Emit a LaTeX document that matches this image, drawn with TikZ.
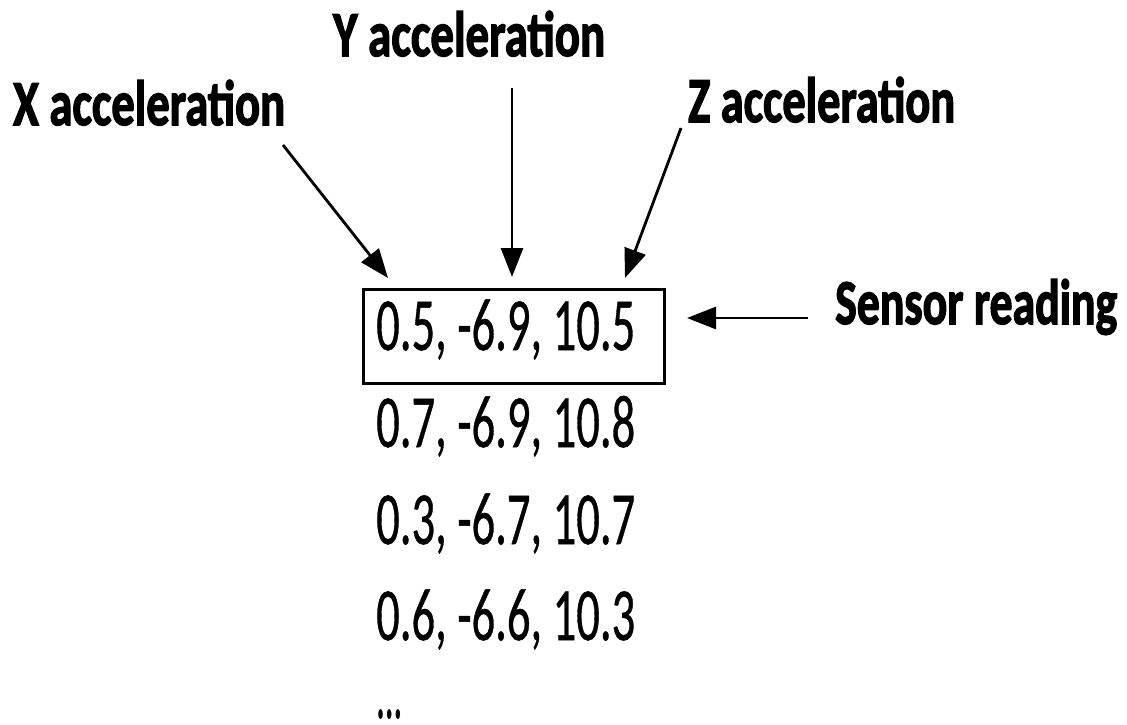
\documentclass[tikz,border=0pt]{standalone}
\usepackage{fontspec}
\setmainfont{Carlito}
\newfontfamily\labfont[BoldFeatures={FakeBold=2.4}]{Carlito}
\newfontfamily\numfont[FakeBold=0.7]{Carlito}
\usetikzlibrary{arrows.meta}
\begin{document}
\begin{tikzpicture}[x=1pt,y=-1pt,
  lab/.style={anchor=base west, inner sep=0pt, font=\fontsize{64}{64}\labfont\bfseries},
  num/.style={anchor=base west, inner sep=0pt, font=\fontsize{75}{75}\numfont},
  arr/.style={line width=2.8pt, -{Triangle[length=29pt,width=22pt]}},
  readbox/.style={draw, line width=3pt, inner sep=0pt, anchor=north west, minimum width=301pt, minimum height=94pt}]
\useasboundingbox (0,0) rectangle (1127,725);
\node[lab] (xl) at (13,125) {\resizebox{272pt}{\height}{X acceleration}};
\node[lab] (yl) at (333,56) {\resizebox{272pt}{\height}{Y acceleration}};
\node[lab] (zl) at (688,122) {\resizebox{267pt}{\height}{Z acceleration}};
\node[lab] (sl) at (835,324) {\resizebox{282pt}{\height}{Sensor reading}};
\node[readbox] (box) at (362,288) {};
\node[num] (r1) at (376,350) {\resizebox{259pt}{\height}{0.5, -6.9, 10.5}};
\node[num] (r2) at (376,447) {\resizebox{259pt}{\height}{0.7, -6.9, 10.8}};
\node[num] (r3) at (376,544) {\resizebox{259pt}{\height}{0.3, -6.7, 10.7}};
\node[num] (r4) at (376,640) {\resizebox{259pt}{\height}{0.6, -6.6, 10.3}};
\node[num] (r5) at (376,718) {\resizebox{26pt}{\height}{...}};
\coordinate (xs) at (283,145);
\coordinate (xt) at (388,278);
\coordinate (ys) at (512,88);
\coordinate (yt) at (512,277);
\coordinate (zs) at (681,128);
\coordinate (zt) at (625,278);
\coordinate (ss) at (808,318);
\coordinate (st) at (687,318);
\draw[arr] (xs) -- (xt);
\draw[arr] (ys) -- (yt);
\draw[arr] (zs) -- (zt);
\draw[arr] (ss) -- (st);
\end{tikzpicture}
\end{document}
